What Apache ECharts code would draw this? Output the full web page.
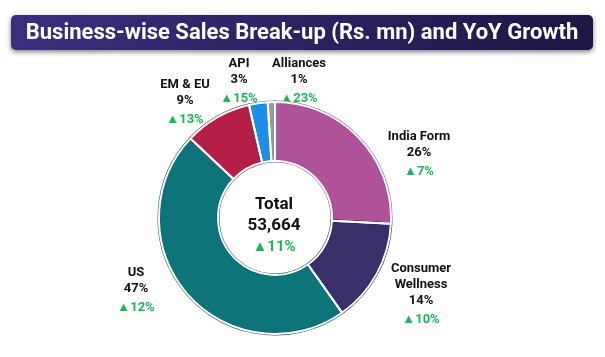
<!DOCTYPE html>
<html><head><meta charset="utf-8">
<script src="https://cdn.jsdelivr.net/npm/echarts@6/dist/echarts.min.js"></script>
<style>html,body{margin:0;padding:0;background:#fff}#c{width:605px;height:357px}</style>
</head><body><div id="c"></div>
<script>
const titleText = 'Business-wise Sales Break-up (Rs. mn) and YoY Growth';
const categories = ['India Form', 'Consumer\nWellness', 'US', 'EM & EU', 'API', 'Alliances'];
const salesValues = [13845, 7728, 25115, 5044, 1395, 537];
const yoyGrowth = ['▲7%', '▲10%', '▲12%', '▲13%', '▲15%', '▲23%'];
const totalLabel = 'Total';
const totalGrowth = '▲11%';

const mainColors = ['#B0529A', '#3A2E6B', '#0D7479', '#B51F47', '#1B8FE8', '#9B9B9B'];
const edgeColors = ['#9C4488', '#2C2257', '#0A6166', '#9C1A3D', '#1677C7', '#878787'];
// label centers (layout only)
const labelPos = [[419, 156], [421, 296], [136, 292], [185, 104], [239, 83], [299, 83]];

const total = salesValues.reduce((a, b) => a + b, 0);
const fmtTotal = total.toLocaleString('en-US');
const FONT = 'Roboto';

const chart = echarts.init(document.getElementById('c'), null, {renderer: 'canvas'});
const data = categories.map((n, i) => ({
  name: n, value: salesValues[i],
  itemStyle: {color: mainColors[i], borderColor: edgeColors[i]}
}));
chart.setOption({
  animation: false,
  graphic: [
    {type: 'rect', shape: {x: 11, y: 15, width: 582, height: 35, r: 5},
     style: {fill: new echarts.graphic.LinearGradient(0, 0, 1, 0, [{offset: 0, color: '#3B2E7D'}, {offset: 1, color: '#1C1744'}]),
             shadowBlur: 5, shadowColor: 'rgba(0,0,0,0.5)', shadowOffsetY: 2}},
    {type: 'text', x: 302, y: 33,
     style: {text: titleText, fill: '#fff', font: 'bold 22px ' + FONT, textAlign: 'center', textVerticalAlign: 'middle'}},
    {type: 'text', x: 274, y: 205,
     style: {text: totalLabel, fill: '#111', font: 'bold 17px ' + FONT, textAlign: 'center', textVerticalAlign: 'middle'}},
    {type: 'text', x: 274, y: 226,
     style: {text: fmtTotal, fill: '#111', font: 'bold 17px ' + FONT, textAlign: 'center', textVerticalAlign: 'middle'}},
    {type: 'text', x: 274, y: 247,
     style: {text: totalGrowth, fill: '#1DB45A', font: 'bold 15px ' + FONT, textAlign: 'center', textVerticalAlign: 'middle'}}
  ],
  series: [
    {
      type: 'pie', center: [275, 218], radius: [57, 116], startAngle: 90, clockwise: true,
      itemStyle: {borderWidth: 3},
      label: {
        show: true, position: 'outside', fontFamily: FONT,
        formatter: p => {
          const nameLines = categories[p.dataIndex].split('\n').map(s => '{n|' + s + '}').join('\n');
          return nameLines + '\n{p|' + Math.round(p.percent) + '%}\n{g|' + yoyGrowth[p.dataIndex] + '}';
        },
        rich: {
          n: {fontFamily: FONT, fontWeight: 'bold', fontSize: 13, color: '#111', lineHeight: 16, align: 'center'},
          p: {fontFamily: FONT, fontWeight: 'bold', fontSize: 13, color: '#111', lineHeight: 16, align: 'center'},
          g: {fontFamily: FONT, fontWeight: 'bold', fontSize: 13, color: '#1DB45A', lineHeight: 22, align: 'center'}
        }
      },
      labelLine: {show: false},
      labelLayout: p => ({x: labelPos[p.dataIndex][0], y: labelPos[p.dataIndex][1], align: 'center', verticalAlign: 'middle'}),
      data: data
    },
    {
      type: 'pie', center: [275, 218], radius: [57, 116], startAngle: 90, clockwise: true, silent: true, z: 3,
      itemStyle: {color: 'rgba(0,0,0,0)', borderColor: '#fff', borderWidth: 2},
      label: {show: false}, labelLine: {show: false},
      data: salesValues.map((v, i) => ({name: categories[i], value: v}))
    }
  ]
});
</script></body></html>
